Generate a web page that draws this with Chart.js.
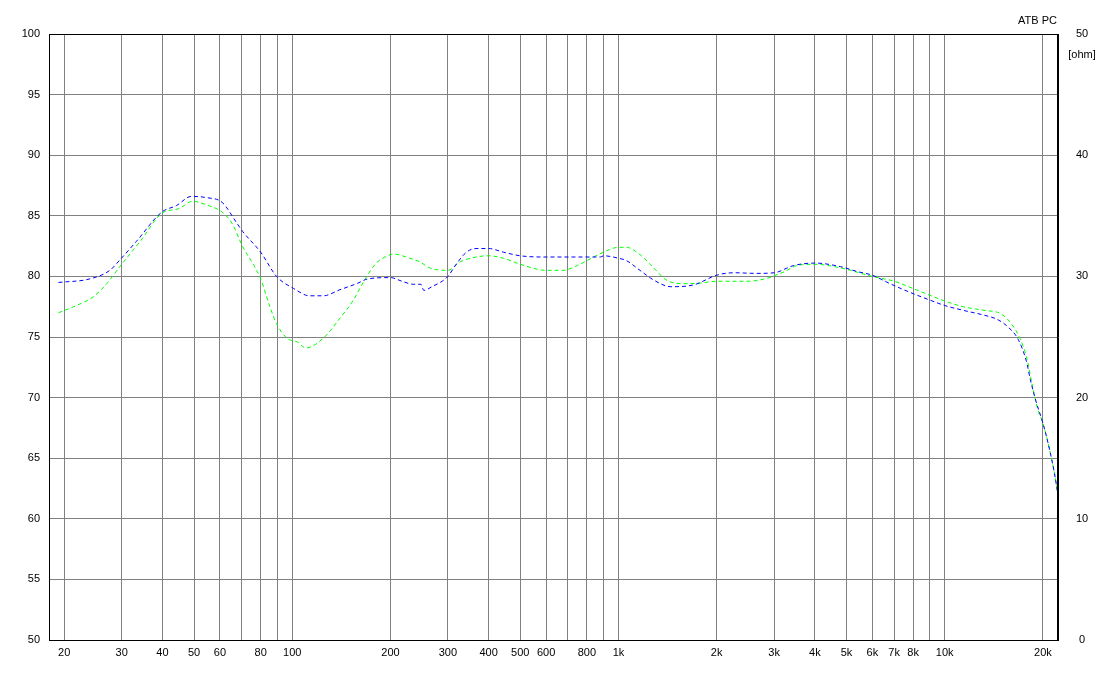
<!DOCTYPE html>
<html>
<head>
<meta charset="utf-8">
<script src="https://cdn.jsdelivr.net/npm/chart.js@4"></script>
<style>
  html, body { margin: 0; padding: 0; background: #fff; }
  #wrap { width: 1103px; height: 680px; position: relative; }
</style>
</head>
<body>
<div id="wrap"><canvas id="c" width="1103" height="680"></canvas></div>
<script>
// ---- data ----
const blueFreq = [19.2, 24, 27.6, 29.6, 33.3, 39.8, 44.2, 49, 54.6, 61, 67.6, 70.5, 80, 89.5, 101, 113, 124.5, 140, 157.6, 171,
  200, 217, 235, 248, 253, 270, 288, 300, 320, 342, 366, 400, 444, 500, 600, 880, 900, 1000, 1058, 1164,
  1282, 1446, 1700, 2000, 2252, 2650, 3000, 3446, 4000, 4800, 5392, 6000, 6800, 7800, 9000, 10000, 11400, 13200,
  14500, 15600, 16800, 17800, 18300, 19000, 20000, 20970, 21700, 22240];
const blueDb = [79.5, 79.8, 80.5, 81.35, 82.9, 85.3, 85.85, 86.6, 86.5, 86.1, 84.4, 83.7, 82.0, 80.0, 79.0, 78.4, 78.4, 78.9, 79.4, 79.8,
  79.9, 79.6, 79.35, 79.35, 78.85, 79.2, 79.6, 80.0, 81.1, 82.0, 82.3, 82.3, 82.0, 81.7, 81.6, 81.6, 81.7, 81.5, 81.3, 80.5,
  79.7, 79.15, 79.3, 80.1, 80.3, 80.25, 80.3, 80.9, 81.1, 80.8, 80.4, 80.1, 79.4, 78.7, 78.05, 77.6, 77.2, 76.8,
  76.45, 75.85, 74.8, 73.0, 71.5, 69.8, 67.9, 65.7, 63.75, 62.0];

const greenFreq = [19.2, 21.8, 24.5, 27, 29.6, 34.2, 39.8, 45, 49.5, 54.6, 61, 65.3, 70.5, 76.3, 80, 85.4, 89.5, 96.3, 103.5, 110,
  124.5, 140, 154, 167, 181, 200, 204, 229, 246, 264, 300, 327, 366, 400, 444, 500, 600, 676, 748, 800,
  900, 1000, 1058, 1164, 1282, 1402, 1580, 1778, 2000, 2500, 2860, 3000, 3230, 3528, 4000, 4800, 6000, 7000,
  8000, 9000, 10000, 11400, 13200, 14900, 16000, 17000, 17800, 18600, 19300, 20000, 20970, 21700, 22240];
const greenDb = [77.0, 77.6, 78.3, 79.4, 80.8, 82.9, 85.2, 85.6, 86.2, 85.9, 85.3, 84.4, 82.45, 80.9, 79.8, 77.5, 76.1, 74.9, 74.6, 74.1,
  74.9, 76.55, 78.05, 79.75, 81.1, 81.8, 81.85, 81.5, 81.2, 80.7, 80.5, 81.2, 81.6, 81.7, 81.5, 81.0, 80.5, 80.5, 80.9, 81.3,
  82.0, 82.4, 82.4, 81.8, 80.7, 79.7, 79.4, 79.45, 79.6, 79.6, 79.85, 80.05, 80.4, 80.9, 81.0, 80.7, 80.0, 79.6,
  79.0, 78.45, 77.97, 77.5, 77.2, 76.9, 76.1, 74.9, 73.4, 70.9, 69.0, 67.9, 65.7, 63.75, 62.0];

const xTickValues = [20, 30, 40, 50, 60, 70, 80, 90, 100, 200, 300, 400, 500, 600, 700, 800, 900,
  1000, 2000, 3000, 4000, 5000, 6000, 7000, 8000, 9000, 10000, 20000];
const xTickLabels = ['20', '30', '40', '50', '60', '', '80', '', '100', '200', '300', '400', '500', '600', '', '800', '',
  '1k', '2k', '3k', '4k', '5k', '6k', '7k', '8k', '', '10k', '20k'];

const xMin = 17.96, xMax = 22250;
const yMin = 50, yMax = 100, yStep = 5;
const y2Min = 0, y2Max = 50, y2Step = 10;
const titleText = 'ATB PC';
const unitText = '[ohm]';

// ---- chart ----
const FONT = { family: "'Liberation Sans', Arial, sans-serif", size: 11 };
const toPts = (xs, ys) => xs.map((x, i) => ({ x: x, y: ys[i] }));

const framePlugin = {
  id: 'frame',
  afterDraw(chart) {
    const { ctx, chartArea: a } = chart;
    ctx.save();
    ctx.strokeStyle = '#000';
    ctx.lineWidth = 1;
    ctx.strokeRect(Math.round(a.left) + 0.5, Math.round(a.top) + 0.5,
      Math.round(a.right - a.left) - 1, Math.round(a.bottom - a.top));
    ctx.fillStyle = '#000';
    ctx.font = "11px 'Liberation Sans', Arial, sans-serif";
    ctx.textBaseline = 'middle';
    ctx.textAlign = 'right';
    ctx.fillText(titleText, a.right - 1, 21);
    ctx.textAlign = 'center';
    ctx.fillText(unitText, 1082, 55);
    ctx.restore();
  }
};

new Chart(document.getElementById('c'), {
  type: 'line',
  data: {
    datasets: [
      {
        data: toPts(blueFreq, blueDb),
        borderColor: '#0000ff',
        borderWidth: 1,
        borderDash: [4, 3],
        pointRadius: 0,
        fill: false,
        cubicInterpolationMode: 'monotone',
        yAxisID: 'y'
      },
      {
        data: toPts(greenFreq, greenDb),
        borderColor: '#00ff00',
        borderWidth: 1,
        borderDash: [4, 3],
        pointRadius: 0,
        fill: false,
        cubicInterpolationMode: 'monotone',
        yAxisID: 'y'
      }
    ]
  },
  options: {
    responsive: false,
    animation: false,
    devicePixelRatio: 1,
    layout: { padding: { top: 34, left: 0, right: 0, bottom: 0 } },
    plugins: { legend: { display: false }, tooltip: { enabled: false }, title: { display: false } },
    scales: {
      x: {
        type: 'logarithmic',
        min: xMin,
        max: xMax,
        afterBuildTicks(scale) { scale.ticks = xTickValues.map(v => ({ value: v })); },
        afterFit(scale) { scale.height = 40; },
        ticks: {
          autoSkip: false,
          maxRotation: 0,
          minRotation: 0,
          padding: 6,
          color: '#000',
          font: FONT,
          callback(value) {
            const i = xTickValues.indexOf(value);
            return i >= 0 ? xTickLabels[i] : '';
          }
        },
        grid: { color: '#808080', lineWidth: 1, drawTicks: false },
        border: { display: true, color: '#000' }
      },
      y: {
        position: 'left',
        min: yMin,
        max: yMax,
        afterFit(scale) { scale.width = 49; },
        ticks: { stepSize: yStep, padding: 9, color: '#000', font: FONT },
        grid: { color: '#808080', lineWidth: 1, drawTicks: false },
        border: { display: true, color: '#000' }
      },
      y2: {
        position: 'right',
        min: y2Min,
        max: y2Max,
        afterFit(scale) { scale.width = 45; },
        ticks: { stepSize: y2Step, padding: 18, color: '#000', font: FONT, crossAlign: 'center' },
        grid: { display: false, drawTicks: false },
        border: { display: true, color: '#000' }
      }
    }
  },
  plugins: [framePlugin]
});
</script>
</body>
</html>
